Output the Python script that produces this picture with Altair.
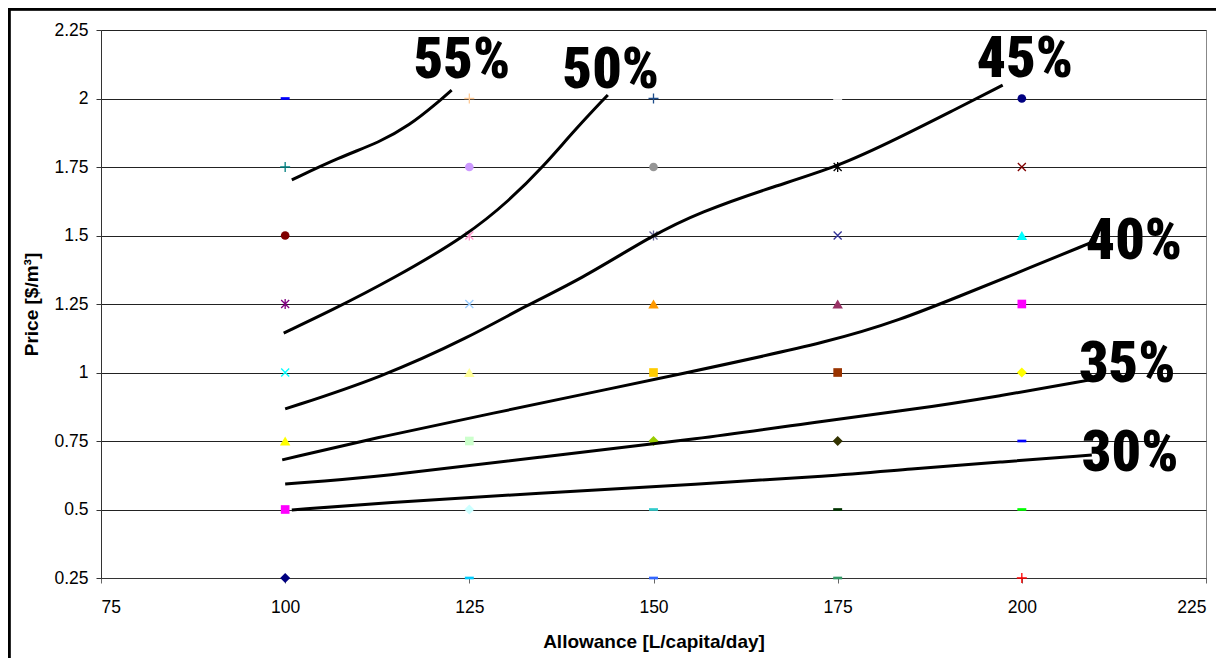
import altair as alt
import pandas as pd

# ---------------- data ----------------
allowance_levels = [100, 125, 150, 175, 200]
price_levels = [2.0, 1.75, 1.5, 1.25, 1.0, 0.75, 0.5, 0.25]

# marker kind and colour for each column (top to bottom, price 2.0 -> 0.25)
markers_100 = ["dash", "plus", "circle", "star", "x", "triangle", "square", "diamond"]
colors_100 = ["#0000FF", "#008080", "#800000", "#800080", "#00FFFF", "#FFFF00", "#FF00FF", "#000080"]
markers_125 = ["plus", "circle", "star", "x", "triangle", "square", "diamond", "dash"]
colors_125 = ["#FFCC99", "#CC99FF", "#FF99CC", "#99CCFF", "#FFFF99", "#CCFFCC", "#CCFFFF", "#00CCFF"]
markers_150 = ["plus", "circle", "star", "triangle", "square", "diamond", "dash", "dash"]
colors_150 = ["#1F4E8C", "#969696", "#666699", "#FF9900", "#FFCC00", "#99CC00", "#33CCCC", "#3366FF"]
markers_175 = ["dash", "star", "x", "triangle", "square", "diamond", "dash", "dash"]
colors_175 = ["#FFFFFF", "#000000", "#333399", "#993366", "#993300", "#333300", "#003300", "#339966"]
markers_200 = ["circle", "x", "triangle", "square", "diamond", "dash", "dash", "plus"]
colors_200 = ["#000080", "#800000", "#00FFFF", "#FF00FF", "#FFFF00", "#0000FF", "#00FF00", "#FF0000"]

# iso-curves (allowance, price)
c55_x = [100.9, 107.4, 112.9, 116.9, 120.3, 122.6]
c55_y = [1.703, 1.786, 1.841, 1.903, 1.976, 2.031]
c50_x = [99.8, 106.1, 114.6, 124.8, 130.5, 135.0, 139.3, 143.8]
c50_y = [1.144, 1.224, 1.341, 1.502, 1.630, 1.750, 1.885, 2.013]
c45_x = [100.0, 112.9, 125.1, 132.8, 140.0, 149.9, 156.3, 165.8, 175.0, 183.5, 190.3, 197.4]
c45_y = [0.867, 0.980, 1.130, 1.246, 1.338, 1.502, 1.585, 1.675, 1.750, 1.859, 1.951, 2.049]
c40_x = [99.6, 112.9, 125.1, 156.3, 174.4, 183.5, 191.6, 199.7, 209.3]
c40_y = [0.681, 0.765, 0.834, 1.009, 1.115, 1.192, 1.279, 1.367, 1.473]
c35_x = [100.0, 112.9, 134.6, 156.3, 174.0, 184.8, 197.0, 209.3]
c35_y = [0.593, 0.619, 0.692, 0.757, 0.827, 0.863, 0.914, 0.973]
c30_x = [100.9, 112.9, 134.6, 156.3, 174.0, 184.8, 197.0, 209.5]
c30_y = [0.498, 0.524, 0.560, 0.593, 0.622, 0.648, 0.673, 0.699]

curve_names = ["55%", "50%", "45%", "40%", "35%", "30%"]
label_x = [124.0, 144.2, 200.4, 215.2, 214.3, 214.7]
label_y = [2.137, 2.100, 2.141, 1.476, 1.027, 0.703]

x_ticks = [75, 100, 125, 150, 175, 200, 225]
y_ticks = [0.25, 0.5, 0.75, 1.0, 1.25, 1.5, 1.75, 2.0, 2.25]

# ---------------- styling of marker kinds ----------------
shape_of = {
    "dash": "M-1,-0.3L1,-0.3L1,0.3L-1,0.3Z",
    "plus": "M-1,0L1,0M0,-1L0,1",
    "x": "M-0.8,-0.8L0.8,0.8M-0.8,0.8L0.8,-0.8",
    "star": "M-0.8,-0.8L0.8,0.8M-0.8,0.8L0.8,-0.8M0,-1L0,1",
    "circle": "circle",
    "square": "square",
    "diamond": "diamond",
    "triangle": "triangle-up",
}
size_of = {"dash": 80, "plus": 100, "x": 100, "star": 100, "circle": 75,
           "square": 75, "diamond": 100, "triangle": 110}
stroked = {"plus", "x", "star"}

rows = []
for xv, mk, cl in [(100, markers_100, colors_100), (125, markers_125, colors_125),
                   (150, markers_150, colors_150), (175, markers_175, colors_175),
                   (200, markers_200, colors_200)]:
    for yv, m, c in zip(price_levels, mk, cl):
        rows.append({"allowance": xv, "price": yv, "shape": shape_of[m],
                     "size": size_of[m], "color": c,
                     "filled": m not in stroked})
pts = pd.DataFrame(rows)

crows = []
for name, xs, ys in zip(curve_names, [c55_x, c50_x, c45_x, c40_x, c35_x, c30_x],
                        [c55_y, c50_y, c45_y, c40_y, c35_y, c30_y]):
    for i, (a, b) in enumerate(zip(xs, ys)):
        crows.append({"curve": name, "allowance": a, "price": b, "order": i})
curves = pd.DataFrame(crows)

labels = pd.DataFrame({"curve": curve_names, "allowance": label_x, "price": label_y})

# ---------------- chart ----------------
xscale = alt.Scale(domain=[75, 225], nice=False, zero=False)
yscale = alt.Scale(domain=[0.25, 2.25], nice=False, zero=False)

x_enc = alt.X("allowance:Q", scale=xscale, axis=alt.Axis(
    values=x_ticks, grid=False, tickSize=5, tickColor="#666666",
    domainColor="#333333", labelFontSize=17.5, labelPadding=15,
    title="Allowance [L/capita/day]", titleFontSize=19, titleFontWeight="bold",
    titlePadding=17))
y_enc = alt.Y("price:Q", scale=yscale, axis=alt.Axis(
    values=y_ticks, format=".2~f", grid=True, gridColor="#222222", gridWidth=1,
    tickSize=5, tickColor="#333333", domainColor="#333333",
    labelFontSize=17.5, labelPadding=8,
    title="Price [$/m³]", titleFontSize=19, titleFontWeight="bold", titlePadding=12))

base_pts = alt.Chart(pts)
filled_pts = base_pts.transform_filter("datum.filled").mark_point(
    filled=True, opacity=1, strokeWidth=0).encode(
    x=x_enc, y=y_enc,
    shape=alt.Shape("shape:N", scale=None),
    size=alt.Size("size:Q", scale=None),
    color=alt.Color("color:N", scale=None))
stroke_pts = base_pts.transform_filter("!datum.filled").mark_point(
    filled=False, opacity=1, strokeWidth=1.3).encode(
    x="allowance:Q", y="price:Q",
    shape=alt.Shape("shape:N", scale=None),
    size=alt.Size("size:Q", scale=None),
    color=alt.Color("color:N", scale=None))

lines = alt.Chart(curves).mark_line(
    color="black", strokeWidth=3, interpolate="basis").encode(
    x="allowance:Q", y="price:Q", detail="curve:N", order="order:Q")

texts = alt.Chart(labels).mark_text(
    font="Roboto Condensed, Roboto, sans-serif",
    fontWeight=900, fontSize=58, align="center", baseline="middle",
    color="black").encode(x="allowance:Q", y="price:Q", text="curve:N")

frame = alt.Chart(labels).mark_rect(
    filled=False, stroke="black", strokeWidth=2.5, fill=None).encode(
    x=alt.value(-92), x2=alt.value(1300), y=alt.value(-21), y2=alt.value(800))

chart = alt.layer(frame, filled_pts, stroke_pts, lines, texts).properties(
    width=1105, height=548,
    autosize=alt.AutoSizeParams(type="none"),
    padding={"left": 93, "top": 22, "right": 10, "bottom": 80},
).configure_view(stroke="#888888", strokeWidth=1).configure_axis(
    labelFont="Liberation Sans", titleFont="Liberation Sans",
    labelColor="black", titleColor="black")

chart.save("out.html", embed_options={"renderer": "svg", "actions": False})
